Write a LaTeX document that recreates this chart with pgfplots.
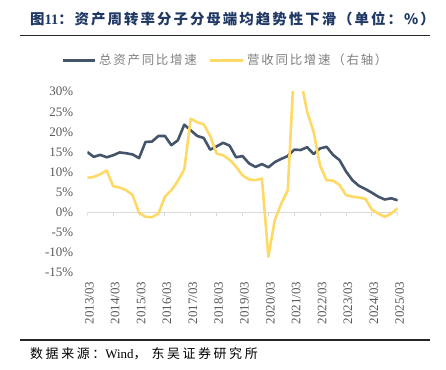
\documentclass[border=0pt]{standalone}
\usepackage{pgfplots}
\usepackage{pgfplotstable}
\pgfplotsset{compat=1.18}
\usepackage{fontspec}
\setmainfont{Liberation Serif}
\newfontfamily\cjk{Noto Sans CJK SC}
\newfontfamily\cjkls{Noto Sans CJK SC}[LetterSpace=14]
\newfontfamily\cjksrc{Noto Sans CJK SC}[LetterSpace=20]
\newfontfamily\cjkt{Noto Sans CJK SC}[LetterSpace=14]

\definecolor{navy}{HTML}{44546A}
\definecolor{gold}{HTML}{FFD966}
\definecolor{titleblue}{HTML}{1F3864}
\definecolor{labelgray}{HTML}{595959}
\definecolor{axisgray}{HTML}{D9D9D9}
\definecolor{leggray}{HTML}{7F7F7F}

\pgfplotstableread{
i asset rev
0 15.0 8.6
1 13.8 8.8
2 14.3 9.5
3 13.7 10.4
4 14.2 6.5
5 14.9 6.2
6 14.7 5.5
7 14.4 4.3
8 13.5 -0.1
9 17.5 -1.1
10 17.6 -1.2
11 19.0 -0.3
12 19.0 3.9
13 16.7 5.5
14 17.9 7.8
15 21.8 10.7
16 20.4 23.3
17 19.0 22.4
18 18.5 21.9
19 15.6 19.0
20 16.4 14.6
21 17.3 14.2
22 16.6 13.1
23 13.7 11.4
24 14.0 9.2
25 12.2 8.2
26 11.3 8.0
27 12.0 8.4
28 11.2 -11.0
29 12.5 -1.9
30 13.3 2.2
31 14.0 5.5
32 15.6 37.0
33 15.5 33.0
34 16.2 25.0
35 14.5 20.0
36 15.9 11.6
37 16.3 8.0
38 14.3 7.9
39 13.0 6.8
40 10.2 4.3
41 8.0 3.9
42 6.6 3.7
43 5.8 3.4
44 4.9 0.7
45 3.9 -0.3
46 3.2 -1.1
47 3.5 -0.3
48 3.0 1.0
}\datatable

\begin{document}
\begin{tikzpicture}
\path[use as bounding box] (0,0) rectangle (446bp,-370bp);

% title
\node[anchor=base west, inner sep=0pt, text=titleblue] at (30bp,-24.5bp)
  {\fontsize{14.5}{16}\selectfont\cjkt\bfseries 图{\rmfamily\bfseries 11}：资产周转率分子分母端均趋势性下滑（单位：\%）};
\draw[line width=1.5bp, black!85] (20bp,-35.7bp) -- (430bp,-35.7bp);

% legend
\draw[navy, line width=3bp] (63bp,-60bp) -- (95bp,-60bp);
\node[anchor=west, inner sep=0pt, text=leggray] at (99bp,-60bp)
  {\fontsize{12.5}{14}\selectfont\cjkls 总资产同比增速};
\draw[gold, line width=3bp] (210bp,-60bp) -- (243bp,-60bp);
\node[anchor=west, inner sep=0pt, text=leggray] at (247bp,-60bp)
  {\fontsize{12.5}{14}\selectfont\cjkls 营收同比增速（右轴）};

\begin{axis}[
  at={(87.3bp,-272.7bp)}, anchor=south west,
  scale only axis, width=310.4bp, height=181bp,
  xmin=0, xmax=48, ymin=-15, ymax=30,
  axis line style={draw=none},
  major tick style={draw=none},
  xtick={0,4,...,48},
  xticklabels={2013/03,2014/03,2015/03,2016/03,2017/03,2018/03,2019/03,2020/03,2021/03,2022/03,2023/03,2024/03,2025/03},
  ytick={-15,-10,...,30},
  yticklabels={-15\%,-10\%,-5\%,0\%,5\%,10\%,15\%,20\%,25\%,30\%},
  xticklabel style={font=\fontsize{13}{15}\selectfont, text=labelgray, inner sep=0pt, yshift=-9bp, xshift=2bp, rotate=90, anchor=east},
  yticklabel style={font=\fontsize{13}{15}\selectfont, text=labelgray, inner sep=0pt, xshift=-14bp, anchor=east},
]
\addplot[draw=axisgray, line width=0.8bp] coordinates {(0,0) (48,0)};
\pgfplotsinvokeforeach{0,4,...,48}{\draw[axisgray, line width=0.8bp] (axis cs:#1,0) -- (axis cs:#1,-1);}
\addplot[navy, line width=2.6bp, line join=round] table[x=i, y=asset] {\datatable};
\addplot[gold, line width=2.6bp, line join=round] table[x=i, y=rev] {\datatable};
\end{axis}

% source
\draw[line width=2bp, black!85] (20bp,-340bp) -- (430bp,-340bp);
\node[anchor=base west, inner sep=0pt] at (30bp,-358.5bp)
  {\fontsize{13}{15}\selectfont\cjksrc 数据来源：{\rmfamily Wind}，\hspace{5bp}东吴证券研究所};
\end{tikzpicture}
\end{document}
